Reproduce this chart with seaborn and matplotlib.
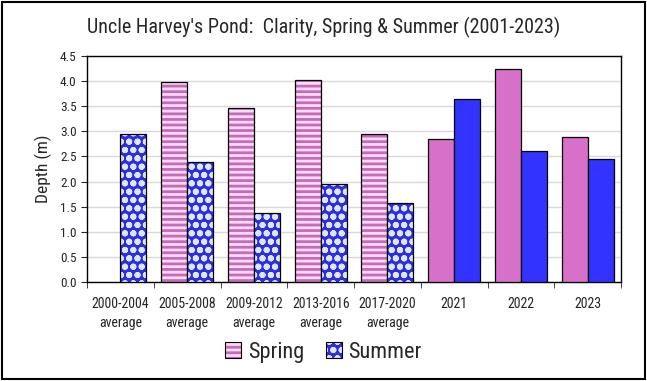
import numpy as np
import pandas as pd
import seaborn as sns
import matplotlib.pyplot as plt
from matplotlib.patches import Patch
from matplotlib.colors import to_rgba
from matplotlib.ticker import MultipleLocator, FixedLocator
from matplotlib import font_manager

# data
periods = ["2000-2004\naverage", "2005-2008\naverage", "2009-2012\naverage",
           "2013-2016\naverage", "2017-2020\naverage", "2021", "2022", "2023"]
spring = [np.nan, 3.98, 3.47, 4.02, 2.94, 2.85, 4.24, 2.89]
summer = [2.94, 2.39, 1.37, 1.95, 1.57, 3.65, 2.60, 2.45]
n_averages = 5  # first five periods are multi-year averages (patterned bars)

SPRING = "#D670C8"
SUMMER = "#3333FF"

df = pd.DataFrame({
    "period": periods * 2,
    "season": ["Spring"] * len(periods) + ["Summer"] * len(periods),
    "depth": spring + summer,
})

sns.set_style("white")
names = {f.name for f in font_manager.fontManager.ttflist}
narrow = [n for n in ["Liberation Sans Narrow", "Roboto Condensed", "Open Sans Condensed"] if n in names]
plt.rcParams["font.family"] = narrow + ["Liberation Sans", "DejaVu Sans"]
plt.rcParams["hatch.linewidth"] = 2.0

fig = plt.figure(figsize=(6.47, 3.81), dpi=100)
ax = fig.add_axes([0.1345, 0.26, 0.8255, 0.593])

sns.barplot(data=df, x="period", y="depth", hue="season", order=periods,
            palette={"Spring": SPRING, "Summer": SUMMER}, width=0.78, saturation=1,
            edgecolor="black", linewidth=0.9, legend=False, ax=ax, zorder=3)


def pattern(bar, season):
    # stripes for spring averages, dotted blocks for summer averages
    if season == "Spring":
        bar.set_facecolor("#F6DDF2")
        bar.set_hatch("---")
        bar._hatch_color = to_rgba("#C968BC")
    else:
        bar.set_facecolor("#2E2EE0")
        bar.set_hatch("oo")
        bar._hatch_color = to_rgba("#DDE6FF")


for cont, season in zip(ax.containers, ["Spring", "Summer"]):
    for bar in cont:
        cat = int(round(bar.get_x() + bar.get_width() / 2))
        if cat < n_averages:
            pattern(bar, season)

ax.set_ylim(0, 4.5)
ax.yaxis.set_major_locator(MultipleLocator(0.5))
ax.yaxis.set_major_formatter(plt.FormatStrFormatter("%.1f"))
ax.grid(axis="y", color="#D9D9D9", linewidth=1, zorder=0)
ax.set_axisbelow(True)
ax.set_xlim(-0.5, len(periods) - 0.5)

ax.set_xlabel("")
ax.set_ylabel("Depth (m)", fontsize=12.5, labelpad=6)
ax.tick_params(axis="x", which="major", length=0, labelsize=10, pad=11)
ax.tick_params(axis="y", labelsize=9.5, length=4, direction="out", left=True)
ax.xaxis.set_minor_locator(FixedLocator(np.arange(-0.5, len(periods), 1.0)))
ax.tick_params(axis="x", which="minor", length=4, direction="out", bottom=True)
for lab in ax.get_xticklabels():
    lab.set_linespacing(1.45)

for side in ["left", "bottom", "top", "right"]:
    ax.spines[side].set_visible(True)
    ax.spines[side].set_color("black")
    ax.spines[side].set_linewidth(1)

fig.suptitle("Uncle Harvey's Pond:  Clarity, Spring & Summer (2001-2023)",
             x=0.5, y=0.955, fontsize=14.5)

h_spring = Patch(facecolor="#F6DDF2", edgecolor="black", hatch="---", linewidth=0.8)
h_summer = Patch(facecolor="#2E2EE0", edgecolor="black", hatch="oo", linewidth=0.8)
h_spring._hatch_color = to_rgba("#C968BC")
h_summer._hatch_color = to_rgba("#DDE6FF")
fig.legend([h_spring, h_summer], ["Spring", "Summer"], loc="center",
           bbox_to_anchor=(0.5, 0.075), ncol=2, frameon=False, fontsize=16,
           handlelength=0.7, handleheight=0.7, handletextpad=0.3, columnspacing=1.0)

# outer chart frame
fig.patches.append(plt.Rectangle((0.003, 0.004), 0.994, 0.992, transform=fig.transFigure,
                                 fill=False, edgecolor="black", linewidth=1.5))

fig.savefig("out.png", dpi=100)
